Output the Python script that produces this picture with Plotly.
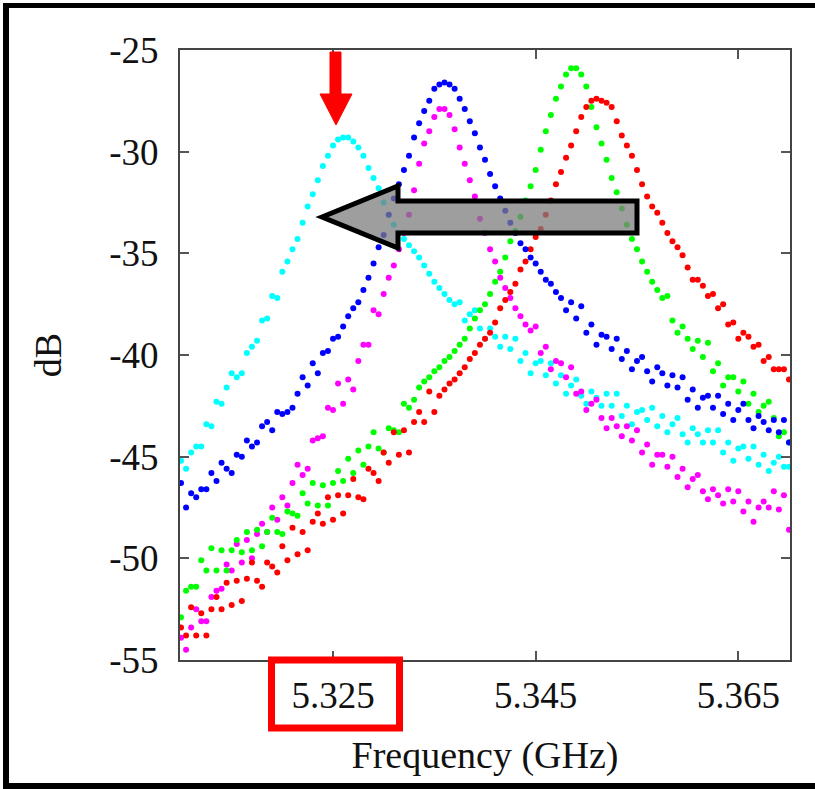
import plotly.graph_objects as go

# Frequency grid (GHz), 121 samples from 5.310 to 5.370
freq = [round(5.310 + 0.0005 * i, 4) for i in range(121)]

cyan_db = [
    -45.2, -45.6, -44.8, -44.5, -44.5, -43.4, -43.5, -42.3, -42.4, -41.6,
    -40.9, -41.1, -40.9, -39.9, -39.6, -39.3, -38.3, -38.2, -37.1, -37.2,
    -35.9, -35.4, -34.8, -34.3, -33.5, -32.7, -32.1, -31.4, -30.7, -30.2,
    -29.7, -29.4, -29.3, -29.3, -29.5, -29.8, -30.2, -30.8, -31.3, -31.8,
    -32.5, -33.1, -33.6, -34.0, -34.3, -34.6, -34.9, -35.2, -35.6, -36.0,
    -36.4, -36.7, -37.0, -37.3, -37.5,
    -37.4, -38.3, -38.0, -37.8, -38.7, -39.2, -38.7, -39.1, -39.6, -39.1,
    -39.7, -39.2, -40.3, -39.9, -40.9, -40.4, -40.3, -41.0, -40.4, -41.4,
    -41.0, -41.9, -41.5, -41.2, -42.0, -42.4, -41.8, -42.1, -42.5, -41.9,
    -42.5, -41.9, -43.0, -42.5, -43.4, -42.8, -42.7, -43.2, -42.6, -43.5,
    -43.0, -43.8, -43.4, -43.1, -43.9, -44.3, -43.6, -43.9, -44.3, -43.7,
    -44.3, -43.7, -44.8, -44.3, -45.2, -44.6, -44.5, -45.1, -44.5, -45.4,
    -44.9, -45.7, -45.3, -45.0, -45.5, -45.5,
]

blue_db = [
    -46.3, -47.5, -46.8, -47.0, -46.6, -46.6, -45.8, -46.2, -45.3, -45.6,
    -45.8, -44.9, -45.0, -44.2, -44.5, -44.3, -43.5, -43.3, -43.7, -42.8,
    -42.9, -42.8, -42.6, -41.9, -41.1, -41.5, -40.4, -40.9, -39.9, -39.8,
    -39.2, -39.1, -38.6, -38.1, -37.7, -37.4, -36.8, -36.2, -35.5, -34.7,
    -34.1, -33.1, -32.3, -31.6, -30.9, -30.2, -29.3, -28.6, -28.0, -27.5,
    -26.9, -26.7, -26.6, -26.7, -26.9, -27.4, -27.9, -28.5, -29.1, -29.8,
    -30.4, -31.1, -31.7, -32.3, -32.9, -33.5, -34.0, -34.5, -34.8, -35.2,
    -35.5, -35.9, -36.3, -36.5, -36.9,
    -37.2, -37.8, -37.4, -38.2, -37.6, -38.9, -38.5, -39.5, -39.0, -39.1,
    -39.7, -39.2, -40.2, -39.8, -40.7, -40.3, -40.1, -40.8, -41.3, -40.6,
    -40.9, -41.5, -41.0, -41.6, -41.1, -42.2, -41.7, -42.6, -42.1, -42.0,
    -42.6, -42.0, -42.9, -42.4, -43.2, -42.7, -42.4, -43.2, -43.6, -43.0,
    -43.3, -43.7, -43.2, -43.8, -43.2, -44.3,
]

magenta_db = [
    -53.9, -54.5, -53.4, -52.5, -53.1, -53.1, -51.9, -51.6, -51.5, -50.3,
    -50.6, -49.3, -50.2, -49.1, -50.0, -48.8, -48.3, -48.7, -47.5, -48.1,
    -47.0, -47.4, -46.3, -45.4, -45.9, -45.6, -44.2, -44.1, -44.0, -42.6,
    -42.7, -41.4, -42.4, -41.2, -41.7, -40.3, -39.5, -39.5, -37.8, -38.0,
    -37.0, -36.2, -35.6, -34.8, -34.0, -33.1, -31.9, -30.6, -29.6, -29.0,
    -28.3, -27.9, -27.9, -28.2, -28.9, -29.8, -30.6, -31.4, -32.2, -33.3,
    -34.0, -34.8, -35.4, -36.2, -36.7, -37.2, -37.7, -38.1, -38.5, -38.8,
    -38.6, -39.9, -39.6, -40.7, -40.3, -40.4, -41.1, -40.6, -41.9, -41.8,
    -42.7, -42.4, -42.2, -43.1, -43.6, -43.1, -43.5, -44.0, -43.5, -44.2,
    -43.7, -44.8, -44.4, -45.4, -44.9, -44.9, -45.5, -45.0, -46.0, -45.6,
    -46.5, -46.1, -45.9, -46.7, -47.1, -46.6, -46.9, -47.3, -46.6, -47.2,
    -46.7, -47.7, -47.2, -48.2, -47.5, -47.2, -47.5, -46.7, -47.6, -46.9,
    -48.6,
]

green_db = [
    -52.9, -51.6, -51.4, -51.4, -50.1, -50.6, -49.5, -50.6, -49.6, -50.6,
    -49.6, -49.1, -49.7, -48.7, -49.6, -48.6, -49.4, -48.7, -48.0, -48.7,
    -48.8, -47.7, -47.8, -47.9, -46.8, -47.3, -46.3, -47.4, -46.4, -47.4,
    -46.3, -45.7, -46.2, -45.1, -45.8, -44.7, -45.4, -44.5, -43.8, -44.6,
    -44.8, -43.6, -43.7, -43.8, -42.4, -42.6, -42.2, -41.6, -41.3, -41.1,
    -40.8, -40.6, -40.3, -40.1, -39.8, -39.5, -39.2, -38.7, -38.2, -37.8,
    -37.5, -37.0, -36.4, -35.9, -35.2, -34.4, -33.9, -33.2, -32.4, -31.7,
    -30.9, -29.9, -29.0, -28.2, -27.4, -26.8, -26.2, -25.9, -25.9, -26.2,
    -26.8, -27.8, -28.8, -29.6, -30.4, -31.3, -32.0, -32.8, -33.6, -34.3,
    -34.8, -35.4, -35.9, -36.4, -36.8,
    -37.2, -37.1, -38.3, -38.9, -38.6, -39.2, -39.7, -39.3, -40.1, -39.4,
    -40.8, -40.4, -41.5, -41.1, -41.1, -41.8, -41.3, -42.4, -41.9, -42.8,
    -42.5, -42.3, -43.1, -44.0, -43.8, -44.3,
]

red_db = [
    -53.4, -53.8, -52.4, -53.8, -52.7, -53.8, -52.5, -51.9, -52.5, -51.2,
    -52.3, -51.1, -52.1, -51.0, -50.2, -51.1, -51.4, -50.2, -50.4, -50.7,
    -49.4, -50.1, -48.5, -49.8, -48.7, -49.6, -48.2, -47.8, -48.3, -47.0,
    -48.1, -46.9, -47.8, -46.9, -46.1, -47.0, -47.1, -45.6, -45.8, -46.2,
    -44.8, -45.3, -43.8, -44.9, -43.7, -44.8, -43.3, -42.8, -43.3, -41.8,
    -42.8, -42.0, -41.7, -41.4, -41.2, -40.9, -40.6, -40.2, -39.9, -39.5,
    -39.2, -38.9, -38.4, -37.7, -37.3, -36.9, -36.5, -35.8, -35.4, -34.8,
    -34.2, -33.8, -33.1, -32.4, -31.6, -31.0, -30.3, -29.7, -29.0, -28.3,
    -27.8, -27.5, -27.4, -27.5, -27.6, -27.8, -28.5, -29.2, -29.7, -30.2,
    -30.9, -31.6, -32.2, -32.7, -33.0, -33.5, -34.0, -34.4, -34.7, -35.1,
    -35.7, -36.3, -36.3, -36.6, -37.1, -37.0, -37.7, -37.5, -38.5, -38.4,
    -39.2, -38.9, -39.1, -39.6, -39.5, -40.3, -40.1, -40.7, -40.7, -40.7,
    -41.2,
]

x_ticks = [5.325, 5.345, 5.365]
x_tick_labels = ["5.325", "5.345", "5.365"]
y_ticks = [-55, -50, -45, -40, -35, -30, -25]
y_tick_labels = ["-55", "-50", "-45", "-40", "-35", "-30", "-25"]

series = [
    ("cyan", cyan_db, "#00ffff"),
    ("magenta", magenta_db, "#ff00ff"),
    ("green", green_db, "#00ff00"),
    ("red", red_db, "#ff0000"),
    ("blue", blue_db, "#0000ff"),
]

W, H = 815, 789
L, R, T, B = 180, 25, 50, 129
PW, PH = W - L - R, H - T - B

def px(x):
    return (x - L) / PW

def py(y):
    return (H - B - y) / PH

fig = go.Figure()
for name, ys, col in series:
    fig.add_trace(go.Scatter(
        x=freq, y=ys, mode="markers", name=name,
        marker=dict(color=col, size=6, line=dict(width=0)),
        showlegend=False, cliponaxis=True,
    ))

FONT = "Liberation Serif, Times New Roman, serif"
axis_common = dict(
    showline=True, mirror="allticks", linecolor="#444444", linewidth=2,
    ticks="inside", ticklen=9, tickwidth=2, tickcolor="#555555",
    showgrid=False, zeroline=False,
    tickfont=dict(family=FONT, size=37, color="#111111"),
)

fig.update_xaxes(
    range=[5.3099, 5.3701], tickvals=x_ticks, ticktext=x_tick_labels,
    title=dict(text="Frequency (GHz)", font=dict(family=FONT, size=38, color="#111111"), standoff=26),
    ticklabelstandoff=2,
    **axis_common,
)
fig.update_yaxes(
    range=[-55, -25], tickvals=y_ticks, ticktext=y_tick_labels,
    title=dict(text="dB", font=dict(family=FONT, size=38, color="#111111"), standoff=36),
    ticklabelstandoff=12,
    **axis_common,
)

shapes = []
# outer frame of the figure (left, top, bottom edges)
shapes.append(dict(type="line", xref="paper", yref="paper", x0=px(6), x1=px(6), y0=py(3), y1=py(789), line=dict(color="black", width=6)))
shapes.append(dict(type="line", xref="paper", yref="paper", x0=px(3), x1=px(815), y0=py(5.5), y1=py(5.5), line=dict(color="black", width=5)))
shapes.append(dict(type="line", xref="paper", yref="paper", x0=px(3), x1=px(815), y0=py(786), y1=py(786), line=dict(color="black", width=6)))

# red down arrow
red_arrow = [(330, 52), (341, 52), (341, 94), (352, 94), (336, 125), (320, 94), (330, 94)]
path = "M " + " L ".join(f"{px(a):.5f},{py(b):.5f}" for a, b in red_arrow) + " Z"
shapes.append(dict(type="path", xref="paper", yref="paper", path=path,
                   fillcolor="#ff0000", line=dict(color="#ff0000", width=1), layer="above"))

# gray block arrow pointing left
gray_arrow = [(322, 217), (398, 186), (398, 201), (637, 201), (637, 233), (398, 233), (398, 248)]
path = "M " + " L ".join(f"{px(a):.5f},{py(b):.5f}" for a, b in gray_arrow) + " Z"
shapes.append(dict(type="path", xref="paper", yref="paper", path=path,
                   fillcolor="rgba(125,125,125,0.75)", line=dict(color="black", width=5), layer="above"))

# red box around 5.325 label
shapes.append(dict(type="rect", xref="paper", yref="paper",
                   x0=px(271.5), x1=px(399.5), y0=py(660), y1=py(728),
                   line=dict(color="#ff0000", width=7), layer="above"))

fig.update_layout(
    width=W, height=H,
    margin=dict(l=L, r=R, t=T, b=B, pad=0),
    paper_bgcolor="white", plot_bgcolor="white",
    shapes=shapes,
    font=dict(family=FONT),
)

fig.write_html("out.html")
